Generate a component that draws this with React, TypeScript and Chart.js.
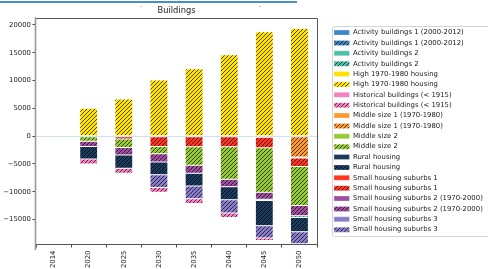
import React, { useEffect, useRef } from 'react';
import { Chart, registerables } from 'chart.js';

Chart.register(...registerables);

// ---- data ----
const years = ['2014', '2020', '2025', '2030', '2035', '2040', '2045', '2050'];

const activity1 = [0, 0, 0, 0, 0, 0, 0, 0];
const activity1Hatched = [0, 0, 0, 0, 0, 0, -180, -170];
const activity2 = [0, 0, 0, 0, 0, 0, 0, 0];
const activity2Hatched = [0, 0, 0, 0, 0, 0, -240, -300];
const high1970 = [0, 0, 0, 0, 0, 0, 0, 0];
const high1970Hatched = [0, 5030, 6680, 10100, 12120, 14640, 18760, 19350];
const historical = [0, 0, 0, 0, 0, 0, 0, 0];
const historicalHatched = [0, -900, -900, -870, -870, -810, -420, 0];
const middle1 = [0, 0, 0, 0, 0, 0, 0, 0];
const middle1Hatched = [0, 0, 0, 0, 0, 0, 0, -3750];
const middle2 = [0, 0, 0, 0, 0, 0, 0, 0];
const middle2Hatched = [0, -900, -1530, -1300, -3330, -5850, -8000, -7050];
const rural = [0, 0, 0, 0, 0, 0, 0, 0];
const ruralHatched = [0, -2280, -2370, -2300, -2280, -2310, -4560, -2550];
const suburbs1 = [0, 0, 0, 0, 0, 0, 0, 0];
const suburbs1Hatched = [0, 0, -500, -1850, -1890, -1890, -1900, -1520];
const suburbs2 = [0, 0, 0, 0, 0, 0, 0, 0];
const suburbs2Hatched = [0, -950, -1380, -1500, -1470, -1380, -1260, -1850];
const suburbs3 = [0, 0, 0, 0, 0, 0, 0, 0];
const suburbs3Hatched = [0, 0, 0, -2280, -2280, -2400, -2200, -2160];

const yTicks = [-15000, -10000, -5000, 0, 5000, 10000, 15000, 20000];

// label, colour, hatched, values, stacking position (0 = nearest the zero line)
const series: [string, string, boolean, number[], number][] = [
  ['Activity buildings 1 (2000-2012)', '#3f86c4', false, activity1, 20],
  ['Activity buildings 1 (2000-2012)', '#3f86c4', true, activity1Hatched, 2],
  ['Activity buildings 2', '#4fc0a8', false, activity2, 21],
  ['Activity buildings 2', '#4fc0a8', true, activity2Hatched, 6],
  ['High 1970-1980 housing', '#ffe200', false, high1970, 22],
  ['High 1970-1980 housing', '#ffe200', true, high1970Hatched, 0],
  ['Historical buildings (< 1915)', '#f67fc0', false, historical, 23],
  ['Historical buildings (< 1915)', '#f67fc0', true, historicalHatched, 9],
  ['Middle size 1 (1970-1980)', '#ff9a30', false, middle1, 24],
  ['Middle size 1 (1970-1980)', '#ff9a30', true, middle1Hatched, 1],
  ['Middle size 2', '#96cc30', false, middle2, 25],
  ['Middle size 2', '#96cc30', true, middle2Hatched, 4],
  ['Rural housing', '#1a3a5e', false, rural, 26],
  ['Rural housing', '#1a3a5e', true, ruralHatched, 7],
  ['Small housing suburbs 1', '#ff3320', false, suburbs1, 27],
  ['Small housing suburbs 1', '#ff3320', true, suburbs1Hatched, 3],
  ['Small housing suburbs 2 (1970-2000)', '#a04ea0', false, suburbs2, 28],
  ['Small housing suburbs 2 (1970-2000)', '#a04ea0', true, suburbs2Hatched, 5],
  ['Small housing suburbs 3', '#8a7cc8', false, suburbs3, 29],
  ['Small housing suburbs 3', '#8a7cc8', true, suburbs3Hatched, 8],
];

const FONT = 'DejaVu Sans';

function makeHatch(ctx: CanvasRenderingContext2D, color: string) {
  const s = 4;
  const tile = document.createElement('canvas');
  tile.width = s;
  tile.height = s;
  const g = tile.getContext('2d')!;
  g.fillStyle = color;
  g.fillRect(0, 0, s, s);
  g.strokeStyle = 'rgba(0,0,0,0.85)';
  g.lineWidth = 0.8;
  g.beginPath();
  g.moveTo(-1, s + 1);
  g.lineTo(s + 1, -1);
  g.moveTo(-1, 1);
  g.lineTo(1, -1);
  g.moveTo(s - 1, s + 1);
  g.lineTo(s + 1, s - 1);
  g.stroke();
  return ctx.createPattern(tile, 'repeat')!;
}

const decorPlugin = {
  id: 'decor',
  beforeDraw(chart: any) {
    const c = chart.ctx;
    c.save();
    // thin blue strip at the very top and small marks
    c.strokeStyle = '#4a8fc8';
    c.lineWidth = 2;
    c.beginPath();
    c.moveTo(0, 2);
    c.lineTo(297, 2);
    c.stroke();
    c.strokeStyle = '#c0c0c0';
    c.lineWidth = 1;
    c.beginPath();
    c.moveTo(140, 6.5);
    c.lineTo(142, 6.5);
    c.moveTo(259, 6.5);
    c.lineTo(261, 6.5);
    c.stroke();
    c.restore();
  },
  afterDraw(chart: any) {
    const c = chart.ctx;
    const a = chart.chartArea;
    c.save();
    // axes frame
    c.strokeStyle = '#555';
    c.lineWidth = 1;
    c.beginPath();
    c.moveTo(a.left, Math.round(a.top) + 0.5);
    c.lineTo(Math.round(a.right) + 0.5, Math.round(a.top) + 0.5);
    c.lineTo(Math.round(a.right) + 0.5, Math.round(a.bottom) + 0.5);
    c.lineTo(a.left, Math.round(a.bottom) + 0.5);
    c.stroke();
    c.strokeStyle = '#9a9a9a';
    c.lineWidth = 1.6;
    c.beginPath();
    c.moveTo(a.left - 0.5, a.top - 1);
    c.lineTo(a.left - 0.5, a.bottom + 6);
    c.stroke();
    // legend frame
    const hb = chart.legend && chart.legend.legendHitBoxes;
    if (hb && hb.length) {
      const first = hb[0];
      const last = hb[hb.length - 1];
      const x = Math.round(first.left - 2) + 0.5;
      const y = Math.round(first.top - 3) + 0.5;
      const b = Math.round(last.top + last.height + 3) + 0.5;
      const r = chart.width + 10;
      const rad = 2;
      c.strokeStyle = '#d4d4d4';
      c.lineWidth = 1;
      c.beginPath();
      c.moveTo(r, y);
      c.lineTo(x + rad, y);
      c.quadraticCurveTo(x, y, x, y + rad);
      c.lineTo(x, b - rad);
      c.quadraticCurveTo(x, b, x + rad, b);
      c.lineTo(r, b);
      c.stroke();
    }
    c.restore();
  },
};

export default function App() {
  const ref = useRef<HTMLCanvasElement>(null);

  useEffect(() => {
    document.body.style.margin = '0';
    const canvas = ref.current!;
    const ctx = canvas.getContext('2d')!;

    const datasets = series.map(([label, color, hatched, values, order]) => ({
      label,
      data: values.map((v) => (v === 0 ? null : v)),
      backgroundColor: hatched ? makeHatch(ctx, color) : color,
      borderColor: 'rgba(255,255,255,0.55)',
      borderWidth: 0.5,
      borderSkipped: false as const,
      order,
      barPercentage: 0.51,
      categoryPercentage: 1,
    }));

    const chart = new Chart(canvas, {
      type: 'bar',
      data: { labels: years, datasets: datasets as any },
      plugins: [decorPlugin],
      options: {
        animation: false,
        responsive: false,
        layout: { padding: { top: 0.5, left: 0, right: 0, bottom: 0 } },
        plugins: {
          title: {
            display: true,
            text: 'Buildings',
            fullSize: false,
            color: '#222',
            font: { family: FONT, size: 8.3, weight: 'normal' },
            padding: { top: 5.3, bottom: 2.5 },
          },
          legend: {
            position: 'right',
            align: 'center',
            fullSize: false,
            maxWidth: 157.5,
            labels: {
              font: { family: FONT, size: 6.9 },
              color: '#222',
              boxWidth: 15.5,
              boxHeight: 5,
              padding: 3.47,
              sort: (a: any, b: any) => a.datasetIndex - b.datasetIndex,
            },
          },
          tooltip: { enabled: false },
        },
        scales: {
          x: {
            stacked: true,
            offset: true,
            grid: {
              display: true,
              drawOnChartArea: false,
              drawTicks: true,
              tickLength: 3.5,
              tickColor: '#444',
            },
            border: { display: false },
            ticks: {
              autoSkip: false,
              maxRotation: 90,
              minRotation: 90,
              padding: 3,
              color: '#222',
              font: { family: FONT, size: 6.9 },
            },
            afterFit: (s: any) => {
              s.height = 25;
            },
          },
          y: {
            stacked: true,
            min: -19400,
            max: 21200,
            grid: {
              display: true,
              drawOnChartArea: true,
              drawTicks: true,
              tickLength: 3.5,
              lineWidth: 1,
              color: (c: any) => (c.tick && c.tick.value === 0 ? '#cfe2f0' : 'rgba(0,0,0,0)'),
              tickColor: '#444',
            },
            border: { display: false },
            ticks: {
              padding: 1.5,
              color: '#222',
              font: { family: FONT, size: 6.9 },
              callback: (v: any) => (Number(v) < 0 ? '\u2212' + Math.abs(Number(v)) : String(v)),
            },
            afterBuildTicks: (s: any) => {
              s.ticks = yTicks.map((v) => ({ value: v }));
            },
            afterFit: (s: any) => {
              s.width = 36;
            },
          },
          gap: {
            type: 'linear',
            position: 'right',
            display: true,
            grid: { display: false },
            border: { display: false },
            ticks: { display: false },
            afterFit: (s: any) => {
              s.width = 13.5;
            },
          },
        },
      } as any,
    });

    return () => chart.destroy();
  }, []);

  return (
    <div style={{ position: 'relative', width: 488, height: 269, overflow: 'hidden' }}>
      <canvas ref={ref} width={488} height={269} style={{ display: 'block' }} />
    </div>
  );
}
